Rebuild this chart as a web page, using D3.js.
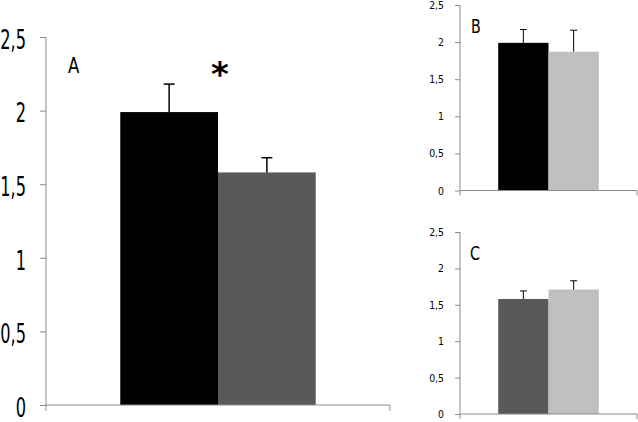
<!DOCTYPE html>
<html>
<head>
<meta charset="utf-8">
<script src="https://cdn.jsdelivr.net/npm/d3@7"></script>
<style>
  body { margin: 0; background: #fff; }
  svg { display: block; }
  text { font-family: "DejaVu Sans", sans-serif; }
</style>
</head>
<body>
<svg id="chart" width="638" height="422"></svg>
<script>
// panel values: two bars each, mean and upper error
const panelNames = ["A", "B", "C"];
const groupsA = ["g1", "g2"];
const valuesA = [1.99, 1.58];
const errorsA = [0.19, 0.10];
const groupsB = ["g1", "g3"];
const valuesB = [1.99, 1.87];
const errorsB = [0.18, 0.29];
const groupsC = ["g2", "g3"];
const valuesC = [1.58, 1.71];
const errorsC = [0.11, 0.12];
const yTicks = [0, 0.5, 1, 1.5, 2, 2.5];
const significant = ["A"];

const fillFor = { g1: "#000000", g2: "#595959", g3: "#c0c0c0" };
const axisColor = "#8a8a8a";

const svg = d3.select("#chart");
const fmt = d => String(d).replace(".", ",");

// squeeze text horizontally around its own x so it looks like a narrow font
function narrow(sel, k) {
  sel.each(function () {
    const t = d3.select(this);
    const x = +t.attr("x") || 0;
    t.attr("x", x / k).attr("transform", `scale(${k},1)`);
  });
}

function drawPanel(name, groups, values, errors, box, s) {
  const y = d3.scaleLinear().domain([0, 2.5]).range([box.bottom, box.top]);
  const outer = d3.scaleBand().domain([name]).range([box.left, box.right]).paddingOuter(0.38);
  const x = d3.scaleBand().domain(groups)
    .range([outer(name), outer(name) + outer.bandwidth()]);

  const g = svg.append("g");

  // bars
  g.selectAll("rect.bar").data(groups).join("rect")
    .attr("class", "bar")
    .attr("x", d => x(d))
    .attr("width", x.bandwidth())
    .attr("y", (d, i) => y(values[i]))
    .attr("height", (d, i) => y(0) - y(values[i]))
    .attr("fill", d => fillFor[d]);

  // upper error whiskers
  const err = g.selectAll("g.err").data(groups).join("g").attr("class", "err");
  err.append("line")
    .attr("x1", d => x(d) + x.bandwidth() / 2)
    .attr("x2", d => x(d) + x.bandwidth() / 2)
    .attr("y1", (d, i) => y(values[i]))
    .attr("y2", (d, i) => y(values[i] + errors[i]))
    .attr("stroke", "#000").attr("stroke-width", s.errW);
  err.append("line")
    .attr("x1", d => x(d) + x.bandwidth() / 2 - s.cap)
    .attr("x2", d => x(d) + x.bandwidth() / 2 + s.cap)
    .attr("y1", (d, i) => y(values[i] + errors[i]))
    .attr("y2", (d, i) => y(values[i] + errors[i]))
    .attr("stroke", "#000").attr("stroke-width", s.errW);

  // y axis
  const ya = g.append("g")
    .attr("transform", `translate(${box.left},0)`)
    .call(d3.axisLeft(y).tickValues(yTicks).tickFormat(fmt)
      .tickSize(s.tick).tickPadding(s.pad));
  ya.select(".domain").attr("stroke", axisColor).attr("d", `M0,${box.top}V${box.bottom + s.tick}`);
  ya.selectAll(".tick line").attr("stroke", axisColor);
  ya.selectAll(".tick text").attr("fill", "#000").attr("font-size", s.font)
    .attr("dy", s.dy).call(narrow, s.squeeze);

  // x axis with boundary ticks
  const xa = g.append("g");
  xa.append("line")
    .attr("x1", box.left).attr("x2", box.right)
    .attr("y1", y(0)).attr("y2", y(0))
    .attr("stroke", axisColor);
  xa.append("line")
    .attr("x1", box.right).attr("x2", box.right)
    .attr("y1", y(0)).attr("y2", y(0) + s.tick)
    .attr("stroke", axisColor);

  // panel letter
  g.append("text")
    .attr("x", box.left + s.labelDx)
    .attr("y", y(2.5) + s.labelDy)
    .attr("font-size", s.labelFont)
    .text(name)
    .call(narrow, 0.75);

  if (significant.includes(name)) {
    g.append("text")
      .attr("x", x(groups[1]) + 2)
      .attr("y", y(values[0] + errors[0]) + 2)
      .attr("text-anchor", "middle")
      .attr("font-size", 34)
      .attr("font-weight", "bold")
      .text("*");
  }
}

drawPanel("A", groupsA, valuesA, errorsA,
  { left: 46, right: 390, top: 37, bottom: 405 },
  { tick: 6, pad: 14, font: 27, dy: "0.42em", squeeze: 0.6, errW: 1.5, cap: 5.5,
    labelDx: 22, labelDy: 36, labelFont: 22 });
drawPanel("B", groupsB, valuesB, errorsB,
  { left: 460, right: 637, top: 5, bottom: 190.5 },
  { tick: 5, pad: 11, font: 11, dy: "0.32em", squeeze: 0.85, errW: 1, cap: 3.5,
    labelDx: 11, labelDy: 28, labelFont: 19 });
drawPanel("C", groupsC, valuesC, errorsC,
  { left: 460, right: 637, top: 232, bottom: 414 },
  { tick: 5, pad: 11, font: 11, dy: "0.32em", squeeze: 0.85, errW: 1, cap: 3.5,
    labelDx: 10, labelDy: 28, labelFont: 19 });
</script>
</body>
</html>
